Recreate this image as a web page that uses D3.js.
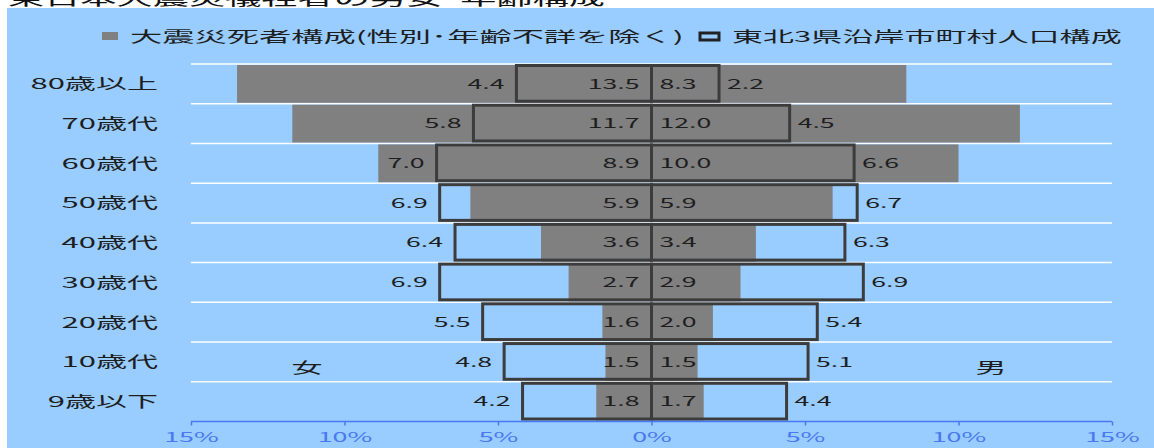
<!DOCTYPE html>
<html>
<head>
<meta charset="utf-8">
<script src="https://cdn.jsdelivr.net/npm/d3@7"></script>
<style>
  html, body { margin: 0; padding: 0; background: #ffffff; }
  svg { display: block; }
  text { font-family: "Noto Sans CJK JP", "Noto Sans", sans-serif; }
</style>
</head>
<body>
<svg id="chart" width="1154" height="448"></svg>
<script>
// Age groups, top to bottom
const ageGroups = ["80歳以上", "70歳代", "60歳代", "50歳代", "40歳代", "30歳代", "20歳代", "10歳代", "9歳以下"];

// Share of disaster deaths by sex (%), excluding unknown sex/age
const deathsFemale = [13.5, 11.7, 8.9, 5.9, 3.6, 2.7, 1.6, 1.5, 1.8];
const deathsMale   = [8.3, 12.0, 10.0, 5.9, 3.4, 2.9, 2.0, 1.5, 1.7];

// Population share of coastal municipalities in the three Tohoku prefectures (%)
const popFemale = [4.4, 5.8, 7.0, 6.9, 6.4, 6.9, 5.5, 4.8, 4.2];
const popMale   = [2.2, 4.5, 6.6, 6.7, 6.3, 6.9, 5.4, 5.1, 4.4];

// Axis ticks and their labels
const tickValues = [-15, -10, -5, 0, 5, 10, 15];
const tickLabels = ["15%", "10%", "5%", "0%", "5%", "10%", "15%"];

const titleText = "東日本大震災犠牲者の男女･年齢構成";
const legendDeaths = "大震災死者構成(性別･年齢不詳を除く)";
const legendPop = "東北3県沿岸市町村人口構成";

const svg = d3.select("#chart");
const W = 1154, H = 448;
const SX = 2.07; // wide text rendering

const bg = "#99CCFF", barGray = "#808080", outline = "#3c3c3c", axisBlue = "#4a78f0", ink = "#1e1e1e";

// Wide text helper: anchor point at (x, y)
function wideText(g, x, y, str, opts = {}) {
  return g.append("text")
    .attr("transform", `translate(${x},${y}) scale(${opts.sx || SX},1)`)
    .attr("text-anchor", opts.anchor || "start")
    .attr("dy", opts.dy || "0.36em")
    .attr("font-size", opts.size || 15)
    .attr("fill", opts.fill || ink)
    .text(str);
}

// Panel background
svg.append("rect").attr("x", 7).attr("y", 8).attr("width", W - 7).attr("height", H - 8).attr("fill", bg);

// Title (runs off the top edge)
wideText(svg, 8, 5, titleText, { size: 17, dy: "0em", sx: 2.13, fill: "#111" });

// Scales
const x = d3.scaleLinear().domain([-15, 15]).range([191, 1112]);
const y = d3.scaleBand().domain(ageGroups).range([64, 421.5]).padding(0);
const bw = y.bandwidth();

// Gridlines at band tops
svg.append("g").selectAll("line").data(ageGroups).join("line")
  .attr("x1", x(-15)).attr("x2", x(15))
  .attr("y1", d => y(d)).attr("y2", d => y(d))
  .attr("stroke", "#ffffff").attr("stroke-width", 1.5);

// Death share bars
const rowsF = ageGroups.map((a, i) => ({ a, d: deathsFemale[i], p: popFemale[i] }));
const rowsM = ageGroups.map((a, i) => ({ a, d: deathsMale[i], p: popMale[i] }));

svg.append("g").selectAll("rect").data(rowsF).join("rect")
  .attr("x", d => x(-d.d)).attr("y", d => y(d.a) + 1)
  .attr("width", d => x(0) - x(-d.d)).attr("height", bw - 2)
  .attr("fill", barGray);
svg.append("g").selectAll("rect").data(rowsM).join("rect")
  .attr("x", x(0)).attr("y", d => y(d.a) + 1)
  .attr("width", d => x(d.d) - x(0)).attr("height", bw - 2)
  .attr("fill", barGray);

// Population outline bars
svg.append("g").selectAll("rect").data(rowsF).join("rect")
  .attr("x", d => x(-d.p)).attr("y", d => y(d.a) + 1.5)
  .attr("width", d => x(0) - x(-d.p)).attr("height", bw - 4)
  .attr("fill", "none").attr("stroke", outline).attr("stroke-width", 3);
svg.append("g").selectAll("rect").data(rowsM).join("rect")
  .attr("x", x(0)).attr("y", d => y(d.a) + 1.5)
  .attr("width", d => x(d.p) - x(0)).attr("height", bw - 4)
  .attr("fill", "none").attr("stroke", outline).attr("stroke-width", 3);

// Value labels
const labels = svg.append("g");
rowsF.forEach(r => {
  const cy = y(r.a) + bw / 2;
  wideText(labels, x(0) - 12, cy, r.d.toFixed(1), { anchor: "end", size: 13, sx: 2.05 });
  wideText(labels, x(-r.p) - 12, cy, r.p.toFixed(1), { anchor: "end", size: 13, sx: 2.05 });
});
rowsM.forEach(r => {
  const cy = y(r.a) + bw / 2;
  wideText(labels, x(0) + 8, cy, r.d.toFixed(1), { anchor: "start", size: 13, sx: 2.05 });
  wideText(labels, x(r.p) + 8, cy, r.p.toFixed(1), { anchor: "start", size: 13, sx: 2.05 });
});

// Category labels
const cats = svg.append("g");
ageGroups.forEach(a => wideText(cats, 158, y(a) + bw / 2, a, { anchor: "end", size: 15 }));

// Sex labels
wideText(svg, 307, 368, "女", { anchor: "middle", size: 15 });
wideText(svg, 991, 368, "男", { anchor: "middle", size: 15 });

// Bottom axis
const axisG = svg.append("g").attr("transform", `translate(0,${421.5})`);
const axis = d3.axisBottom(x).tickValues(tickValues).tickSize(4).tickFormat((d, i) => tickLabels[i]);
axisG.call(axis);
axisG.select(".domain").attr("stroke", axisBlue).attr("stroke-width", 1.5).attr("d", `M${x(-15)},0H${x(15)}`);
axisG.selectAll(".tick line").attr("stroke", axisBlue).attr("stroke-width", 1.5);
axisG.selectAll(".tick text").each(function () {
  const t = d3.select(this);
  t.attr("fill", axisBlue).attr("font-size", 13).attr("font-family", null)
   .attr("y", 0).attr("dy", "0.36em")
   .attr("transform", `translate(0,16) scale(${SX},1)`);
});

// Legend
const lg = svg.append("g");
lg.append("rect").attr("x", 102).attr("y", 32).attr("width", 16).attr("height", 8).attr("fill", barGray);
wideText(lg, 130, 36.5, legendDeaths, { size: 15, sx: 2.15 });
lg.append("rect").attr("x", 700).attr("y", 33).attr("width", 19).attr("height", 7)
  .attr("fill", "none").attr("stroke", "#222").attr("stroke-width", 3);
wideText(lg, 732, 36.5, legendPop, { size: 15 });
</script>
</body>
</html>
